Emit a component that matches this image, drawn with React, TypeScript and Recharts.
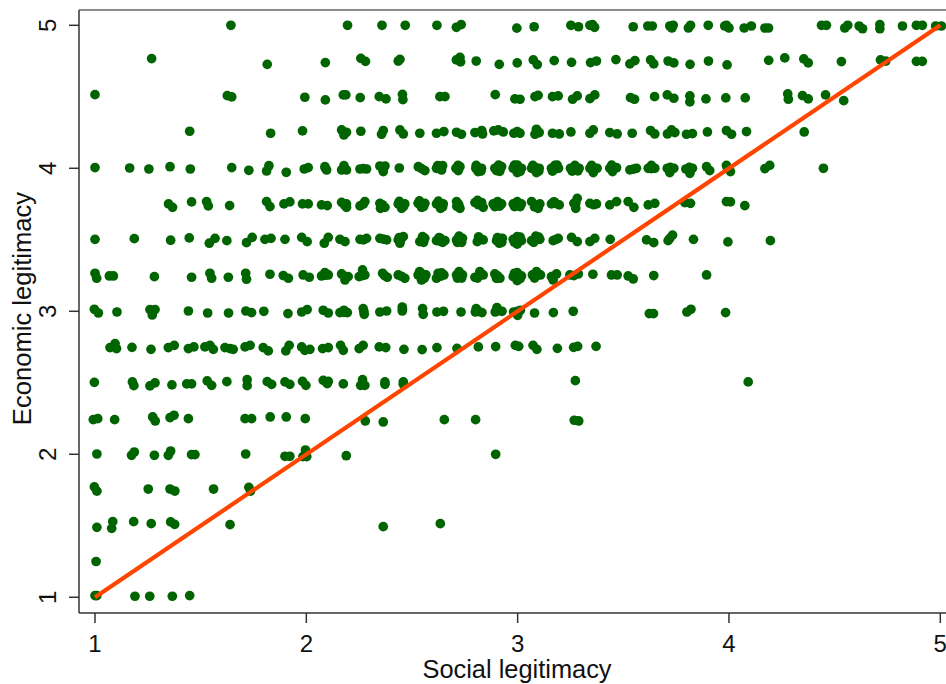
import { ScatterChart, Scatter, XAxis, YAxis, ReferenceLine } from 'recharts'

const X_TICKS = [1, 2, 3, 4, 5]
const Y_TICKS = [1, 2, 3, 4, 5]
const X_TITLE = 'Social legitimacy'
const Y_TITLE = 'Economic legitimacy'

// [social, economic] (points are jittered)
const ROW_500 = [[1.643,5],[2.195,5],[2.358,5],[2.468,5],[2.618,5],[2.71,4.986],[2.733,5.005],[2.996,4.98],[3.078,4.99],[3.252,5],[3.288,4.99],[3.342,5],[3.364,4.986],[3.354,5.005],[3.547,4.99],[3.616,4.995],[3.637,4.995],[3.72,4.995],[3.73,4.981],[3.736,5],[3.808,4.981],[3.818,5],[3.902,5],[3.98,4.995],[4,4.981],[3.988,5],[4.072,4.981],[4.106,4.995],[4.17,4.981],[4.187,4.981],[4.438,5],[4.461,5],[4.548,4.981],[4.562,5],[4.616,4.995],[4.632,4.976],[4.714,5.005],[4.714,4.976],[4.821,4.995],[4.887,5],[4.915,5],[4.978,4.995],[5.005,4.995]]
const ROW_475 = [[1.268,4.767],[1.815,4.727],[2.09,4.739],[2.258,4.769],[2.28,4.748],[2.435,4.75],[2.443,4.762],[2.71,4.758],[2.727,4.776],[2.73,4.744],[2.804,4.75],[2.913,4.727],[2.998,4.737],[3.074,4.758],[3.093,4.725],[3.173,4.753],[3.255,4.741],[3.345,4.739],[3.373,4.75],[3.465,4.76],[3.531,4.73],[3.555,4.753],[3.629,4.758],[3.644,4.73],[3.712,4.75],[3.739,4.737],[3.816,4.727],[3.903,4.75],[3.991,4.723],[4.188,4.755],[4.264,4.772],[4.354,4.765],[4.375,4.737],[4.532,4.746],[4.717,4.758],[4.742,4.75],[4.887,4.748],[4.915,4.748]]
const ROW_450 = [[1,4.515],[1.626,4.508],[1.647,4.499],[1.993,4.497],[2.09,4.478],[2.175,4.513],[2.187,4.513],[2.255,4.494],[2.345,4.501],[2.377,4.485],[2.455,4.517],[2.457,4.48],[2.632,4.501],[2.656,4.501],[2.894,4.515],[2.987,4.485],[3.011,4.483],[3.082,4.501],[3.097,4.51],[3.165,4.501],[3.192,4.506],[3.26,4.483],[3.282,4.506],[3.342,4.487],[3.365,4.513],[3.534,4.494],[3.553,4.483],[3.648,4.501],[3.708,4.513],[3.739,4.49],[3.815,4.506],[3.815,4.464],[3.891,4.485],[3.985,4.492],[4.077,4.492],[4.278,4.52],[4.281,4.483],[4.348,4.508],[4.375,4.485],[4.457,4.513],[4.543,4.473]]
const ROW_425 = [[1.448,4.259],[1.831,4.245],[1.982,4.262],[2.167,4.268],[2.178,4.233],[2.19,4.252],[2.258,4.259],[2.356,4.238],[2.364,4.264],[2.443,4.268],[2.459,4.24],[2.537,4.245],[2.616,4.245],[2.651,4.257],[2.711,4.252],[2.734,4.238],[2.798,4.25],[2.83,4.264],[2.834,4.24],[2.887,4.262],[2.908,4.268],[2.932,4.254],[2.982,4.245],[3.011,4.245],[2.998,4.257],[3.089,4.273],[3.082,4.238],[3.102,4.25],[3.165,4.245],[3.197,4.24],[3.252,4.254],[3.342,4.245],[3.358,4.268],[3.436,4.25],[3.471,4.24],[3.542,4.245],[3.629,4.264],[3.649,4.24],[3.709,4.24],[3.728,4.268],[3.744,4.25],[3.799,4.238],[3.827,4.242],[3.898,4.254],[3.988,4.264],[4.012,4.238],[4.083,4.257],[4.356,4.254]]
const ROW_400 = [[1,4.005],[1.164,4.002],[1.255,3.995],[1.355,4.011],[1.451,3.995],[1.647,4.005],[1.728,3.986],[1.823,4.018],[1.812,3.981],[1.905,3.972],[1.99,3.995],[2.009,4.005],[2.088,4.011],[2.096,3.988],[2.178,4.018],[2.167,3.988],[2.19,3.988],[2.254,3.995],[2.285,3.995],[2.348,4.016],[2.372,4.016],[2.364,3.977],[2.44,4.002],[2.53,4.011],[2.561,3.984],[2.616,4],[2.64,3.988],[2.645,4.018],[2.708,4],[2.727,4.011],[2.719,3.984],[2.802,4],[2.829,4],[2.813,3.977],[2.892,4],[2.924,4.011],[2.9,3.984],[2.979,4],[3.018,4],[2.998,4.023],[2.998,3.97],[3.066,4],[3.102,4],[3.089,3.97],[3.16,4],[3.193,4],[3.176,4.02],[3.25,4],[3.291,4],[3.271,4.02],[3.342,4],[3.376,4],[3.358,3.97],[3.436,4],[3.468,4.004],[3.449,3.977],[3.531,3.989],[3.562,4],[3.618,4],[3.649,4],[3.633,4.02],[3.708,4],[3.739,4],[3.72,3.97],[3.796,3.995],[3.827,4],[3.815,3.965],[3.894,4.011],[3.909,3.984],[3.993,4],[4.007,3.977],[3.988,4.02],[4.17,3.998],[4.193,4.02],[4.447,4]]
const ROW_375 = [[1.348,3.751],[1.367,3.727],[1.457,3.765],[1.528,3.767],[1.536,3.737],[1.637,3.739],[1.812,3.767],[1.828,3.732],[1.894,3.751],[1.922,3.765],[1.982,3.751],[2.009,3.751],[2.072,3.744],[2.099,3.739],[2.167,3.762],[2.19,3.751],[2.19,3.727],[2.254,3.737],[2.277,3.767],[2.348,3.755],[2.372,3.727],[2.351,3.72],[2.435,3.751],[2.466,3.751],[2.451,3.72],[2.529,3.755],[2.561,3.755],[2.545,3.727],[2.616,3.751],[2.648,3.751],[2.635,3.72],[2.711,3.767],[2.727,3.72],[2.719,3.751],[2.798,3.76],[2.83,3.76],[2.837,3.727],[2.884,3.751],[2.924,3.751],[2.905,3.767],[2.979,3.751],[3.018,3.751],[2.998,3.767],[3.066,3.767],[3.105,3.751],[3.097,3.72],[3.16,3.751],[3.197,3.744],[3.266,3.755],[3.282,3.79],[3.275,3.72],[3.342,3.755],[3.373,3.751],[3.436,3.744],[3.468,3.767],[3.523,3.767],[3.55,3.727],[3.618,3.744],[3.649,3.755],[3.791,3.76],[3.818,3.755],[3.988,3.767],[4.007,3.765],[4.075,3.739]]
const ROW_350 = [[1,3.503],[1.186,3.508],[1.358,3.497],[1.446,3.513],[1.541,3.476],[1.568,3.51],[1.624,3.494],[1.717,3.48],[1.744,3.517],[1.804,3.503],[1.833,3.51],[1.899,3.503],[1.978,3.517],[2.004,3.487],[2.085,3.476],[2.104,3.517],[2.159,3.503],[2.183,3.487],[2.254,3.503],[2.285,3.51],[2.348,3.51],[2.38,3.499],[2.435,3.499],[2.459,3.522],[2.443,3.476],[2.537,3.487],[2.561,3.51],[2.55,3.522],[2.616,3.494],[2.656,3.494],[2.635,3.51],[2.711,3.499],[2.739,3.51],[2.723,3.526],[2.809,3.487],[2.837,3.499],[2.9,3.494],[2.928,3.51],[2.913,3.476],[2.979,3.503],[3.018,3.494],[2.998,3.522],[2.998,3.47],[3.066,3.494],[3.105,3.503],[3.086,3.526],[3.168,3.494],[3.192,3.51],[3.255,3.517],[3.282,3.487],[3.342,3.487],[3.365,3.51],[3.438,3.503],[3.61,3.499],[3.644,3.48],[3.72,3.51],[3.733,3.533],[3.712,3.494],[3.832,3.503],[3.995,3.485],[4.196,3.494]]
const ROW_325 = [[1,3.266],[1.008,3.231],[1.068,3.247],[1.087,3.247],[1.281,3.242],[1.457,3.238],[1.544,3.266],[1.552,3.231],[1.631,3.238],[1.713,3.266],[1.717,3.224],[1.828,3.259],[1.891,3.25],[1.915,3.231],[1.985,3.254],[2.014,3.238],[2.072,3.247],[2.104,3.254],[2.088,3.27],[2.167,3.261],[2.198,3.242],[2.183,3.219],[2.25,3.242],[2.277,3.254],[2.266,3.289],[2.361,3.266],[2.383,3.238],[2.435,3.254],[2.466,3.231],[2.529,3.254],[2.566,3.254],[2.545,3.219],[2.536,3.277],[2.616,3.231],[2.651,3.254],[2.624,3.266],[2.711,3.254],[2.739,3.254],[2.723,3.277],[2.798,3.238],[2.837,3.254],[2.821,3.277],[2.892,3.261],[2.916,3.231],[2.979,3.242],[3.018,3.247],[2.998,3.27],[2.998,3.214],[3.07,3.254],[3.108,3.254],[3.089,3.277],[3.16,3.242],[3.184,3.261],[3.168,3.219],[3.247,3.254],[3.287,3.261],[3.356,3.259],[3.444,3.254],[3.471,3.254],[3.523,3.247],[3.547,3.226],[3.644,3.25],[3.894,3.254]]
const ROW_300 = [[0.997,3.014],[1.016,2.988],[1.104,2.995],[1.26,3.012],[1.284,3.012],[1.271,2.974],[1.442,3.002],[1.533,2.988],[1.632,2.988],[1.714,3.002],[1.741,2.991],[1.799,3],[1.913,2.984],[1.978,2.995],[2.004,3.012],[2.08,3.007],[2.104,2.988],[2.159,2.991],[2.194,2.991],[2.178,3.007],[2.269,3.019],[2.274,2.979],[2.348,2.995],[2.38,3.002],[2.454,3.002],[2.454,3.03],[2.55,3.019],[2.553,2.979],[2.618,2.995],[2.649,3],[2.732,2.995],[2.8,2.995],[2.831,2.991],[2.804,3.019],[2.894,2.995],[2.926,3],[2.902,3.026],[2.981,2.995],[3.013,3.007],[3,2.972],[3.08,2.988],[3.169,2.991],[3.263,3],[3.623,2.984],[3.643,2.984],[3.801,2.995],[3.82,3.014],[3.984,2.991]]
const ROW_275 = [[1.071,2.746],[1.095,2.774],[1.102,2.739],[1.175,2.748],[1.265,2.734],[1.347,2.746],[1.375,2.762],[1.442,2.739],[1.468,2.751],[1.52,2.751],[1.544,2.762],[1.56,2.734],[1.615,2.746],[1.639,2.739],[1.654,2.734],[1.71,2.751],[1.734,2.762],[1.796,2.746],[1.82,2.723],[1.903,2.723],[1.919,2.762],[1.978,2.751],[2.017,2.734],[1.993,2.727],[2.077,2.739],[2.104,2.746],[2.162,2.762],[2.175,2.727],[2.25,2.739],[2.269,2.762],[2.345,2.751],[2.376,2.746],[2.462,2.734],[2.548,2.732],[2.618,2.746],[2.713,2.741],[2.814,2.751],[2.896,2.753],[2.989,2.762],[3.005,2.755],[3.073,2.762],[3.091,2.734],[3.188,2.741],[3.265,2.748],[3.284,2.755],[3.371,2.755]]
const ROW_250 = [[0.997,2.503],[1.177,2.506],[1.184,2.48],[1.26,2.478],[1.284,2.499],[1.364,2.485],[1.434,2.492],[1.457,2.492],[1.531,2.513],[1.552,2.482],[1.624,2.508],[1.72,2.522],[1.72,2.48],[1.815,2.508],[1.836,2.489],[1.899,2.506],[1.922,2.489],[1.982,2.51],[1.998,2.482],[2.08,2.517],[2.104,2.51],[2.099,2.494],[2.175,2.492],[2.266,2.522],[2.257,2.482],[2.277,2.482],[2.372,2.506],[2.372,2.489],[2.459,2.506],[2.459,2.49],[3.273,2.515],[4.091,2.506]]
const ROW_225 = [[0.992,2.242],[1.013,2.249],[1.093,2.242],[1.273,2.261],[1.285,2.233],[1.355,2.256],[1.374,2.273],[1.442,2.249],[1.71,2.249],[1.741,2.249],[1.829,2.261],[1.905,2.261],[1.995,2.249],[2.279,2.233],[2.364,2.226],[2.653,2.242],[2.801,2.242],[3.268,2.238],[3.289,2.233]]
const ROW_200 = [[1.009,2.002],[1.173,1.993],[1.186,2.016],[1.281,1.993],[1.347,1.993],[1.358,2.023],[1.457,1.998],[1.473,1.998],[1.713,2.002],[1.899,1.986],[1.922,1.986],[1.996,2.03],[1.984,1.984],[2.002,1.984],[2.189,1.99],[2.896,2]]
const ROW_175 = [[0.997,1.772],[1.009,1.742],[1.252,1.757],[1.355,1.757],[1.378,1.743],[1.561,1.757],[1.728,1.769],[1.736,1.743]]
const ROW_150 = [[1.009,1.489],[1.084,1.529],[1.079,1.482],[1.183,1.529],[1.266,1.515],[1.358,1.527],[1.377,1.51],[1.639,1.508],[2.364,1.494],[2.634,1.515]]
const ROW_LOW = [[1.005,1.25],[1,1.012],[1.009,1.012],[1.189,1.007],[1.259,1.007],[1.366,1.007],[1.448,1.012]]
// the big blobs hold more answers than can be told apart, these fill them in
const BLOBS_400 = [[2.09,4],[2.18,4.003],[2.27,3.998],[2.36,4.002],[2.545,3.998],[2.63,4.002],[2.72,3.998],[2.815,4],[2.91,3.998],[3,4],[3.085,4.004],[3.178,3.996],[3.271,3.995],[3.36,4.004],[3.45,4.006],[3.548,3.994],[3.633,3.998],[3.722,4.006],[3.812,4.006],[2.622,4.018],[2.718,4.02],[2.804,4.02],[2.826,3.98],[2.91,4.022],[2.915,3.978],[2.985,4.022],[3.012,3.978],[3.072,4.02],[3.1,3.98],[3.165,3.98],[3.187,4.022],[3.258,3.98],[3.285,3.982],[3.35,4.02],[3.445,4.022]]
const BLOBS_375 = [[2.18,3.745],[2.27,3.75],[2.36,3.745],[2.45,3.74],[2.545,3.745],[2.632,3.742],[2.722,3.742],[2.815,3.745],[2.905,3.738],[3,3.738],[3.09,3.742],[3.18,3.755],[3.275,3.755],[3.36,3.745],[2.44,3.768],[2.46,3.733],[2.535,3.772],[2.555,3.732],[2.625,3.77],[2.645,3.73],[2.712,3.734],[2.81,3.775],[2.892,3.732],[2.915,3.735],[2.985,3.732],[3.012,3.732],[3.08,3.73],[3.172,3.766]]
const BLOBS_350 = [[2.27,3.5],[2.364,3.505],[2.447,3.5],[2.55,3.5],[2.635,3.49],[2.725,3.5],[2.822,3.51],[2.915,3.5],[3,3.5],[3.088,3.5],[3.18,3.502],[2.44,3.516],[2.555,3.482],[2.628,3.515],[2.645,3.482],[2.715,3.482],[2.735,3.482],[2.815,3.52],[2.905,3.516],[2.925,3.482],[2.985,3.482],[3.012,3.518],[3.076,3.482],[3.1,3.518]]
const BLOBS_325 = [[2.09,3.252],[2.182,3.245],[2.265,3.25],[2.37,3.25],[2.45,3.245],[2.55,3.245],[2.635,3.245],[2.725,3.25],[2.82,3.252],[2.905,3.248],[3,3.245],[3.09,3.25],[3.17,3.245],[3.266,3.25],[2.542,3.268],[2.558,3.23],[2.64,3.268],[2.715,3.232],[2.735,3.232],[2.81,3.232],[2.9,3.23],[2.985,3.266],[3.012,3.228],[3.08,3.232]]
const BLOBS_300 = [[2.178,2.993],[2.272,3],[2.455,3.015],[2.815,3],[2.91,3.005],[3,3]]

const POINTS = [ROW_500, ROW_475, ROW_450, ROW_425, ROW_400, ROW_375, ROW_350, ROW_325, ROW_300, ROW_275, ROW_250, ROW_225, ROW_200, ROW_175, ROW_150, ROW_LOW, BLOBS_400, BLOBS_375, BLOBS_350, BLOBS_325, BLOBS_300]
  .flat()
  .map(([x, y]) => ({ x, y }))
const FIT = [{ x: 1, y: 1 }, { x: 5, y: 5 }]

const FONT = '"Liberation Sans", Arial, sans-serif'

const RotatedTick = ({ x, y, payload }: any) => (
  <text
    x={x - 11}
    y={y}
    transform={`rotate(-90 ${x - 11} ${y})`}
    textAnchor="middle"
    fontFamily={FONT}
    fontSize={24}
    fill="#111"
  >
    {payload.value}
  </text>
)

const Dot = ({ cx, cy }: any) => <circle cx={cx} cy={cy} r={4.85} fill="#006400" />

export default function App() {
  return (
    <div style={{ position: 'absolute', left: 0, top: 0, width: 946, height: 684, background: '#fff' }}>
      <ScatterChart width={946} height={684} margin={{ top: 10, right: 0, bottom: 0, left: 0 }}>
        <XAxis
          type="number"
          dataKey="x"
          domain={[0.9243, 5.027]}
          ticks={X_TICKS}
          interval={0}
          height={71}
          tickSize={10}
          tickMargin={12}
          stroke="#333"
          strokeWidth={1.5}
          tick={{ fontFamily: FONT, fontSize: 24, fill: '#111' }}
          label={{ value: X_TITLE, position: 'insideBottom', offset: 6, dx: 4.5, fontFamily: FONT, fontSize: 25.4, fill: '#111' }}
        />
        <YAxis
          type="number"
          dataKey="y"
          domain={[0.89, 5.107]}
          ticks={Y_TICKS}
          interval={0}
          width={79}
          tickSize={10}
          stroke="#333"
          strokeWidth={1.5}
          tick={<RotatedTick />}
          label={{ value: Y_TITLE, angle: -90, position: 'insideLeft', offset: 22, dy: -3, fontFamily: FONT, fontSize: 25.6, fill: '#111', style: { textAnchor: 'middle' } }}
        />
        <ReferenceLine y={5.107} stroke="#666" strokeWidth={1.5} ifOverflow="visible" />
        <Scatter data={POINTS} shape={<Dot />} isAnimationActive={false} />
        <Scatter data={FIT} line={{ stroke: '#FF4500', strokeWidth: 4.2 }} shape={() => null} isAnimationActive={false} />
      </ScatterChart>
    </div>
  )
}
